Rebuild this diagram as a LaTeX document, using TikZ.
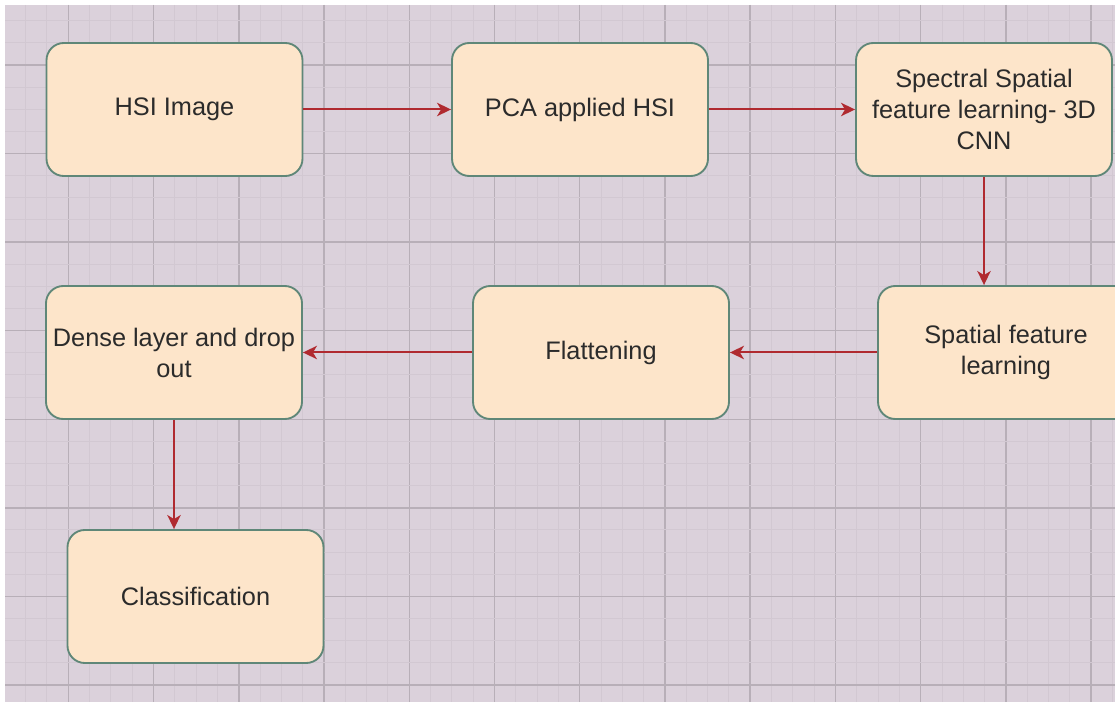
\documentclass[tikz,border=0pt]{standalone}
\usepackage{fontspec}
\setmainfont{Liberation Sans}
\usetikzlibrary{arrows.meta}
\definecolor{bgc}{HTML}{DBD1DB}
\definecolor{minorc}{HTML}{D2C8D2}
\definecolor{majorc}{HTML}{B8AFB8}
\definecolor{boxfill}{HTML}{FDE5CA}
\definecolor{boxline}{HTML}{5F8778}
\definecolor{arrowc}{HTML}{B02A30}
\definecolor{txtc}{HTML}{2B2B2B}
\tikzset{
  stepbox/.style={draw=boxline, line width=1.4pt, fill=boxfill, rounded corners=13pt,
    minimum width=192pt, minimum height=99.75pt, inner sep=0pt, text=txtc,
    align=center, font=\fontsize{19pt}{23.25pt}\selectfont},
  flow/.style={draw=arrowc, line width=1.5pt, -{Stealth[length=10.5pt,width=10pt,inset=3pt]}}
}
\begin{document}
\begin{tikzpicture}[x=0.75pt,y=-0.75pt]
\useasboundingbox (0,0) rectangle (1115,702);
\clip (0,0) rectangle (1115,702);
\fill[white] (0,0) rectangle (1115,702);
\fill[bgc] (5,5) rectangle (1115,702);
\begin{scope}
\clip (5,5) rectangle (1115,702);
\foreach \k in {-2,...,49}{
  \pgfmathsetmacro{\xx}{68.3+21.31*\k}
  \pgfmathtruncatemacro{\mm}{mod(\k+8,4)}
  \ifnum\mm=0
    \draw[majorc, line width=1.1pt] (\xx,5) -- (\xx,702);
  \else
    \draw[minorc, line width=0.75pt] (\xx,5) -- (\xx,702);
  \fi
}
\foreach \k in {-2,...,28}{
  \pgfmathsetmacro{\yy}{65+22.14*\k}
  \pgfmathtruncatemacro{\mm}{mod(\k+8,4)}
  \ifnum\mm=0
    \draw[majorc, line width=1.1pt] (5,\yy) -- (1115,\yy);
  \else
    \draw[minorc, line width=0.75pt] (5,\yy) -- (1115,\yy);
  \fi
}
\end{scope}

\node[stepbox] (hsi) at (174.5,109.5) {HSI Image};
\node[stepbox] (pca) at (580,109.5) {PCA applied HSI};
\node[stepbox] (spec) at (984,109.5) {Spectral Spatial\\feature learning- 3D\\CNN};
\node[stepbox] (spat) at (1006,352.5) {Spatial feature\\learning};
\node[stepbox] (flat) at (601,352.5) {Flattening};
\node[stepbox] (dense) at (174,352.5) {Dense layer and drop\\out};
\node[stepbox] (cls) at (195.5,596.5) {Classification};

\draw[flow] (hsi.east) -- (pca.west);
\draw[flow] (pca.east) -- (spec.west);
\draw[flow] (spec.south) -- (spec.south |- spat.north);
\draw[flow] (spat.west) -- (flat.east);
\draw[flow] (flat.west) -- (dense.east);
\draw[flow] (dense.south) -- (dense.south |- cls.north);
\end{tikzpicture}
\end{document}
